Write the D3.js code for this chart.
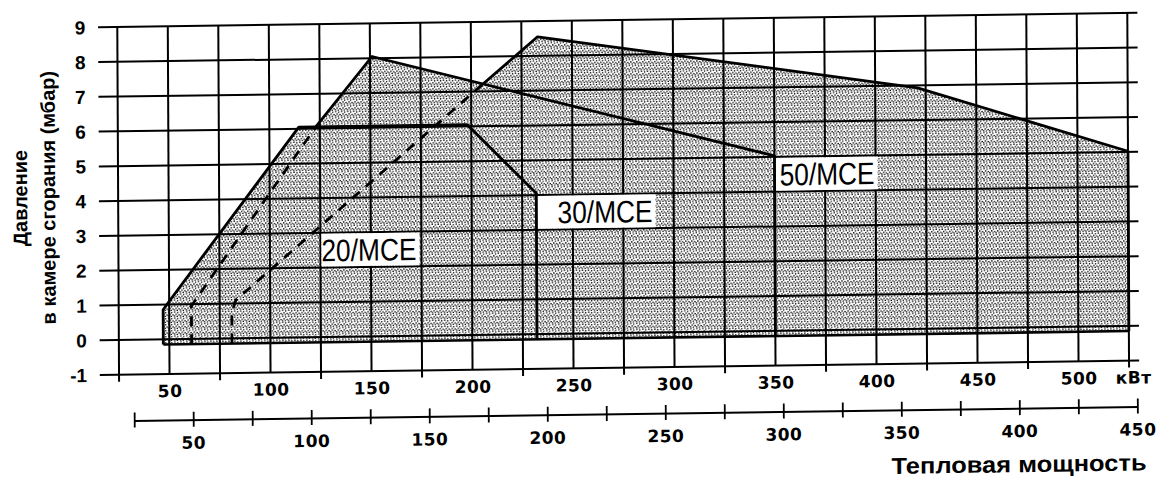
<!DOCTYPE html>
<html>
<head>
<meta charset="utf-8">
<script src="https://cdn.jsdelivr.net/npm/d3@7"></script>
<style>
body { margin: 0; background: #fff; }
</style>
</head>
<body>
<div id="chart"></div>
<script>
// working fields of the burners: [kW, mbar]
var field20 = [[47,-0.15],[47,0.85],[49.5,1.05],[114.6,6.05],[198,6.05],[232,4.05],[232,-0.15]];
var field30 = [[61,-0.15],[61,0.95],[123,6.05],[151,8.05],[350,5.03],[350,-0.15]];
var field50 = [[81,-0.15],[81,0.75],[83,1.1],[206,7.22],[233,8.55],[421,6.93],[525,5.02],[525,-0.15]];
// number of leading points of an outline that lie inside a smaller field (drawn dashed)
var dashedPoints = [0, 3, 4];
var baseLine = [[47,-0.15],[525,-0.15]];

var fieldNames = ["20/MCE", "30/MCE", "50/MCE"];
// cell that holds each name: kW from, kW to, mbar from, mbar to
var nameCells = [[125,174,2,3],[232,291,3,4],[350,401,4,5]];

var kwGrid = [25,50,75,100,125,150,175,200,225,250,275,300,325,350,375,400,425,450,475,500,525];
var kwLabels = [50,100,150,200,250,300,350,400,450,500,525];
var kwUnit = "кВт";
var pressureTicks = [-1,0,1,2,3,4,5,6,7,8,9];
var mcalTicks = [25,50,75,100,125,150,175,200,225,250,275,300,325,350,375,400,425,450];

var width = 1161, height = 479;

var svg = d3.select("#chart").append("svg")
	.attr("width", width)
	.attr("height", height)
	.style("display", "block");

//dot pattern for the working fields
var defs = svg.append("defs");
var pat = defs.append("pattern")
	.attr("id", "stipple")
	.attr("patternUnits", "userSpaceOnUse")
	.attr("width", 6)
	.attr("height", 6);
[[1,1],[4,1.5],[2.4,3.4],[5.3,4],[0.7,5.1],[3.6,5.5]].forEach(function(p){
	pat.append("circle").attr("cx", p[0]).attr("cy", p[1]).attr("r", 0.75).attr("fill", "#000");
});

//the scanned original is slightly skewed
var g = svg.append("g")
	.attr("transform", "matrix(1,-0.014,0.005,1,-1.85,1.4)");

//scales
var x = d3.scaleLinear().domain([25, 525]).range([119, 1129]);
var y = d3.scaleLinear().domain([-1, 9]).range([375, 27.3]);
var mcal = d3.scaleLinear().domain([25, 450]).range([x(32.4), x(529)]);

var line = d3.line()
	.x(function(d){ return x(d[0]); })
	.y(function(d){ return y(d[1]); });

//filled fields, one path so the overlaps are not darker
g.append("path")
	.attr("d", [field20, field30, field50].map(function(f){ return line(f) + "Z"; }).join(""))
	.attr("fill", "url(#stipple)")
	.attr("fill-rule", "nonzero")
	.attr("stroke", "none");

//grid
g.selectAll(".hgrid")
	.data(pressureTicks)
	.enter()
	.append("line")
	.attr("class", "hgrid")
	.attr("x1", x(15.5))
	.attr("x2", x(530))
	.attr("y1", function(d){ return y(d); })
	.attr("y2", function(d){ return y(d); })
	.attr("stroke", "#000")
	.attr("stroke-width", 2);

g.selectAll(".vgrid")
	.data(kwGrid)
	.enter()
	.append("line")
	.attr("class", "vgrid")
	.attr("x1", function(d){ return x(d); })
	.attr("x2", function(d){ return x(d); })
	.attr("y1", y(9))
	.attr("y2", function(d){ return d % 50 ? y(-1) + 7 : y(-1); })
	.attr("stroke", "#000")
	.attr("stroke-width", 2);

//white boxes behind the names
g.selectAll(".namebox")
	.data(nameCells)
	.enter()
	.append("rect")
	.attr("class", "namebox")
	.attr("x", function(d){ return x(d[0]) + 1; })
	.attr("y", function(d){ return y(d[3]) + 1; })
	.attr("width", function(d){ return x(d[1]) - x(d[0]) - 1; })
	.attr("height", function(d){ return y(d[2]) - y(d[3]) - 2; })
	.attr("fill", "#fff");

//outlines
g.append("path")
	.attr("d", line(baseLine))
	.attr("fill", "none")
	.attr("stroke", "#000")
	.attr("stroke-width", 2.6);

[field20, field30, field50].forEach(function(f, i){
	var n = dashedPoints[i];
	if (n > 0) {
		g.append("path")
			.attr("d", line(f.slice(0, n)))
			.attr("fill", "none")
			.attr("stroke", "#000")
			.attr("stroke-width", 2.8)
			.attr("stroke-dasharray", "10,8");
	}
	g.append("path")
		.attr("d", line(f.slice(Math.max(n - 1, 0))))
		.attr("fill", "none")
		.attr("stroke", "#000")
		.attr("stroke-width", 2.8)
		.attr("stroke-linejoin", "round");
});

//names
g.selectAll(".name")
	.data(nameCells)
	.enter()
	.append("text")
	.attr("class", "name")
	.attr("x", function(d){ return x(d[1]) - 3; })
	.attr("y", function(d){ return y((d[2] + d[3]) / 2); })
	.attr("dy", "0.36em")
	.attr("text-anchor", "end")
	.attr("textLength", 95)
	.attr("lengthAdjust", "spacingAndGlyphs")
	.style("font-family", "'Liberation Sans', Arial, sans-serif")
	.style("font-size", "31px")
	.text(function(d, i){ return fieldNames[i]; });

//pressure labels
g.selectAll(".ylab")
	.data(pressureTicks)
	.enter()
	.append("text")
	.attr("class", "ylab")
	.attr("x", 87)
	.attr("y", function(d){ return y(d); })
	.attr("dy", "0.36em")
	.attr("text-anchor", "end")
	.style("font-family", "'Liberation Sans', Arial, sans-serif")
	.style("font-weight", "bold")
	.style("font-size", "19px")
	.text(function(d){ return d; });

var yTitle = g.append("text")
	.attr("transform", "translate(28,197) rotate(-90)")
	.attr("text-anchor", "middle")
	.style("font-family", "'Liberation Sans', Arial, sans-serif")
	.style("font-weight", "bold")
	.style("font-size", "20px");
yTitle.append("tspan").attr("x", 0).attr("y", 0).text("Давление");
yTitle.append("tspan").attr("x", 0).attr("y", 28).text("в камере сгорания (мбар)");

//kW axis labels
var kwAxis = d3.axisBottom(x)
	.tickValues(kwLabels)
	.tickSize(0)
	.tickFormat(function(d){ return d === 525 ? kwUnit : d; });

var kwG = g.append("g")
	.attr("transform", "translate(0," + y(-1) + ")")
	.call(kwAxis);
kwG.select(".domain").remove();
kwG.selectAll("text")
	.attr("y", 23)
	.attr("dy", 0)
	.attr("fill", "#000")
	.style("font-family", "'DejaVu Sans', sans-serif")
	.style("font-weight", "bold")
	.style("font-size", "17px")
	.style("letter-spacing", "0.5px");
kwG.selectAll("text").filter(function(d){ return d === 525; }).attr("dx", 4);

//second scale below
var mcalAxis = d3.axisBottom(mcal)
	.tickValues(mcalTicks)
	.tickSize(7)
	.tickSizeOuter(0)
	.tickFormat(function(d){ return d % 50 ? "" : d; });

var mcalG = g.append("g")
	.attr("transform", "translate(0,421)")
	.call(mcalAxis);
mcalG.select(".domain").attr("stroke-width", 2);
mcalG.selectAll(".tick line").attr("y1", -8).attr("y2", 7).attr("stroke-width", 1.8);
mcalG.selectAll("text")
	.attr("y", 29)
	.attr("dy", 0)
	.attr("fill", "#000")
	.style("font-family", "'DejaVu Sans', sans-serif")
	.style("font-weight", "bold")
	.style("font-size", "17px")
	.style("letter-spacing", "0.5px");

g.append("text")
	.attr("x", 1146)
	.attr("y", 485)
	.attr("text-anchor", "end")
	.attr("textLength", 255)
	.attr("lengthAdjust", "spacingAndGlyphs")
	.style("font-family", "'Liberation Sans', Arial, sans-serif")
	.style("font-weight", "bold")
	.style("font-size", "23px")
	.text("Тепловая мощность");
</script>
</body>
</html>
